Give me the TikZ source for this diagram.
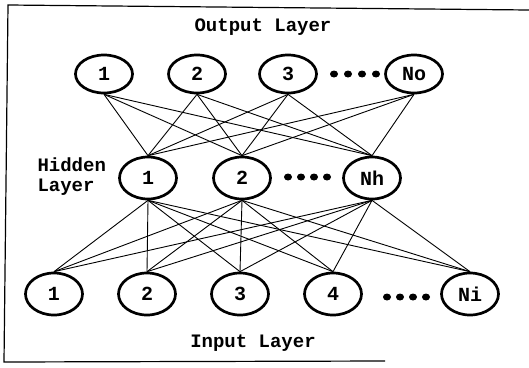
\documentclass[tikz,border=0pt]{standalone}
\usepackage{fontspec}
\setmonofont{Liberation Mono}
\usetikzlibrary{shapes.geometric}
\begin{document}
\begin{tikzpicture}[x=1pt,y=-1pt,
  unit/.style={ellipse,draw,line width=2.7pt,minimum width=57pt,minimum height=40pt,inner sep=0pt,
    font=\ttfamily\bfseries\fontsize{20}{20}\selectfont},
  title/.style={font=\ttfamily\bfseries\fontsize{19}{20}\selectfont},
  link/.style={line width=0.9pt},
  dot/.style={ellipse,fill,inner sep=0pt,minimum width=8pt,minimum height=7pt}]
\useasboundingbox (0,0) rectangle (529,367);
% frame (top, left, bottom)
\draw[line width=1.2pt] (529,10) -- (8,5) -- (4,362) -- (385,361);

% output layer
\node[title] (tout) at (263,27) {Output Layer};
\node[unit,minimum height=38pt] (o1) at (104,74) {1};
\node[unit,minimum height=38pt] (o2) at (197,74) {2};
\node[unit,minimum height=38pt] (o3) at (288,74) {3};
\node[unit,minimum height=38pt] (oN) at (414,74) {No};
\foreach \x [count=\i] in {334,348,362,376} \node[dot] (od\i) at (\x,74) {};

% hidden layer
\node[title,align=left,anchor=west] (thid) at (34,177) {Hidden\\Layer};
\node[unit,minimum height=42pt] (h1) at (148,178) {1};
\node[unit,minimum height=42pt] (h2) at (242,178) {2};
\node[unit,minimum height=42pt] (hN) at (372,178) {Nh};
\foreach \x [count=\i] in {288,301,314,327} \node[dot] (hd\i) at (\x,177) {};

% input layer
\node[unit,minimum height=42pt] (i1) at (54,294) {1};
\node[unit,minimum height=42pt] (i2) at (147,294) {2};
\node[unit,minimum height=42pt] (i3) at (240,294) {3};
\node[unit,minimum height=42pt] (i4) at (333,294) {4};
\node[unit,minimum height=42pt] (iN) at (470,294) {Ni};
\foreach \x [count=\i] in {387,400,413,426} \node[dot] (id\i) at (\x,297) {};
\node[title] (tin) at (253,343) {Input Layer};

% full connections output -> hidden
\foreach \o in {o1,o2,o3,oN}
  \foreach \h in {h1,h2,hN}
    \draw[link] (\o.south) -- (\h.north);
% full connections hidden -> input
\foreach \h in {h1,h2,hN}
  \foreach \n in {i1,i2,i3,i4,iN}
    \draw[link] (\h.south) -- (\n.north);
\end{tikzpicture}
\end{document}
